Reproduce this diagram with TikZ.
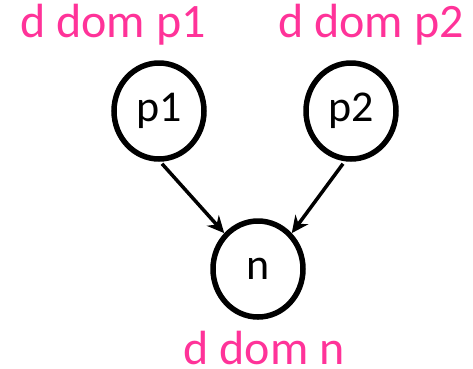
\documentclass[tikz,border=0pt]{standalone}
\usepackage{fontspec}
\setmainfont{Carlito}
\usetikzlibrary{arrows.meta,shapes.geometric}
\definecolor{dompink}{RGB}{255,51,153}
\begin{document}
\begin{tikzpicture}[x=1pt,y=-1pt,
  vertex/.style={draw=black,line width=5.5pt,ellipse,minimum width=90pt,minimum height=96pt,inner sep=0pt,font=\fontsize{44}{48}\selectfont},
  domlabel/.style={text=dompink,font=\fontsize{48}{52}\selectfont,inner sep=0pt,anchor=base},
  edge/.style={line width=3.5pt,-{Stealth[length=17pt,width=16pt]}}]
\useasboundingbox (0,0) rectangle (473,368);
\node[vertex] (p1) at (159,111) {p1};
\node[vertex] (p2) at (351,111) {p2};
\node[vertex] (n) at (258,269) {n};
\node[domlabel] (l1) at (113,37) {d dom p1};
\node[domlabel] (l2) at (371,37) {d dom p2};
\node[domlabel] (ln) at (264,364) {d dom n};
\draw[edge] (p1.south) ++(3,2) coordinate (s1) (s1) -- (n.north west);
\draw[edge] (p2.south) ++(-8,2) coordinate (s2) (s2) -- (n.north east);
\end{tikzpicture}
\end{document}
